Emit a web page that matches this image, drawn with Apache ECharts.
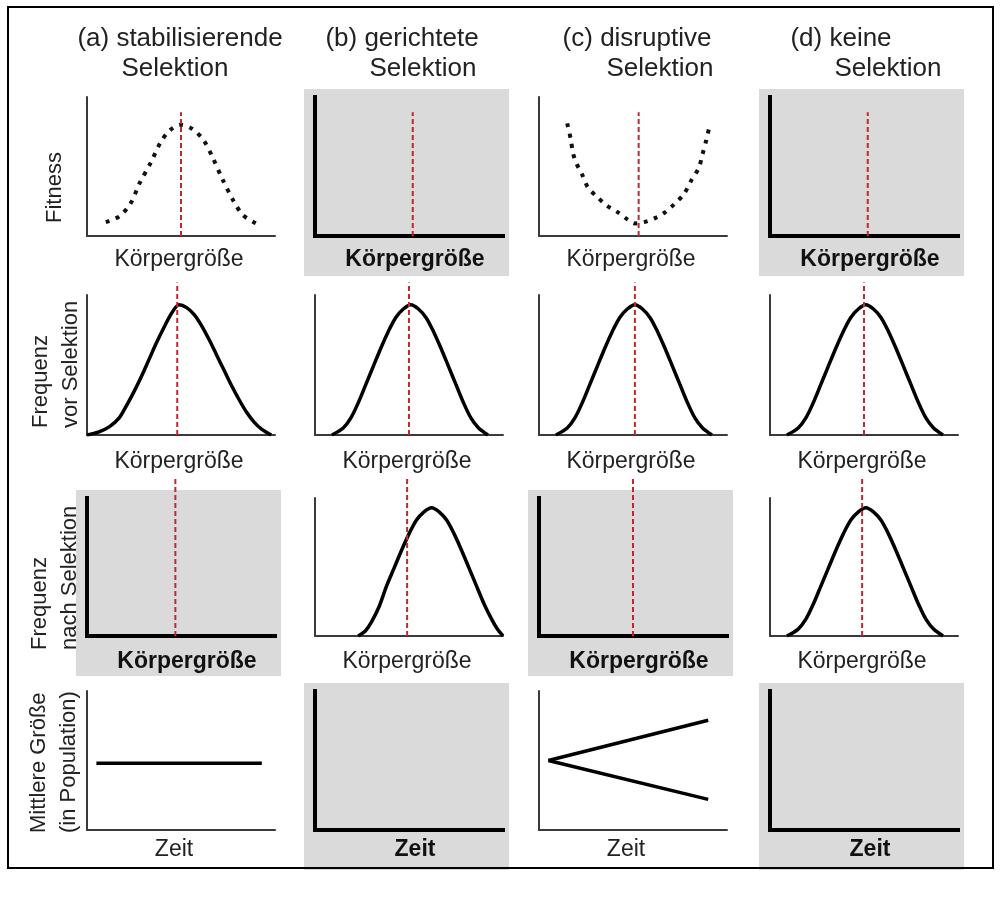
<!DOCTYPE html>
<html>
<head>
<meta charset="utf-8">
<title>Selektionstypen</title>
<script src="https://cdn.jsdelivr.net/npm/echarts@6/dist/echarts.min.js"></script>
<style>
  html, body { margin: 0; padding: 0; background: #fff; }
  #chart { width: 1003px; height: 912px; }
</style>
</head>
<body>
<div id="chart"></div>
<script>
// Spaltenköpfe, je zwei Zeilen
var colTitles = [
  ['(a) stabilisierende', 'Selektion'],
  ['(b) gerichtete', 'Selektion'],
  ['(c) disruptive', 'Selektion'],
  ['(d) keine', 'Selektion']
];
var rowLabels = ['Fitness', 'Frequenz\nvor Selektion', 'Frequenz\nnach Selektion', 'Mittlere Größe\n(in Population)'];
var xNames = ['Körpergröße', 'Körpergröße', 'Körpergröße', 'Zeit'];

// Kurven, x und y jeweils 0..100
var fitnessStab = [[10,10],[17,14],[23,23],[28,38],[34,53],[39,67],[44,76],[50,80],[56,77],[62,69],[67,56],[72,41],[78,25],[83,15],[90,9]];
var fitnessDisr = [[15,81],[17,69],[18,60],[20,52],[23,44],[26,35],[31,28],[36,22],[42,17],[47,12],[51,9],[56,10],[62,13],[67,17],[72,23],[77,30],[81,40],[85,49],[87,59],[89,69],[91,81]];
var bellWide = [[0,0],[6,2],[12,6],[17,12],[21,21],[25,31],[29,42],[33,54],[37,66],[41,77],[45,87],[49,93],[53,91],[57,86],[61,78],[65,68],[69,57],[73,46],[77,35],[81,25],[85,16],[89,9],[93,4],[98,0]];
var bellNarrow = [[9,0],[15,5],[19,12],[23,23],[27,36],[31,49],[35,62],[39,74],[43,84],[47,90],[51,93],[55,90],[59,84],[63,74],[67,62],[71,49],[75,36],[79,23],[83,12],[87,5],[92,0]];
var bellShifted = [[23,0],[27,4],[30,10],[34,21],[38,36],[42,49],[46,62],[50,74],[54,84],[58,90],[62,93],[66,90],[70,84],[74,74],[78,62],[82,49],[86,36],[90,23],[94,12],[97,5],[100,0]];
var flatMean = [[5,48],[93,48]];
var meanUp = [[5,50],[90,79]];
var meanDown = [[5,50],[90,22]];

// mittlere Körpergröße (rote Linie) je Spalte, Zeilen 1..3
var meanX = [[50,48,47],[52,50,49],[53,51,50],[52,50,49]];
var meanTop = [89, 109, 115];

// grau = keine Veränderung
var shaded = [
  [false, true, false, true],
  [false, false, false, false],
  [true, false, true, false],
  [false, true, false, true]
];
var panels = [
  [[fitnessStab], [], [fitnessDisr], []],
  [[bellWide], [bellNarrow], [bellNarrow], [bellNarrow]],
  [[], [bellShifted], [], [bellNarrow]],
  [[flatMean], [], [meanUp, meanDown], []]
];

// Layout
var colX = [87, 315, 539, 770], plotW = 188;
var rowTop = [97, 295, 498, 691], rowBot = [236, 435, 636, 830];
var titleX = [[180, 175], [402, 423], [637, 660], [841, 888]];
var labelPos = [[55, 223], [56, 428], [55, 650], [54, 833]];
var nameGaps = [12, 15, 14, 8];
var FONT = '"Liberation Sans", Arial, sans-serif';

var grids = [], xAxes = [], yAxes = [], series = [], graphics = [];

for (var r = 0; r < 4; r++) {
  for (var c = 0; c < 4; c++) {
    var i = grids.length;
    var h = rowBot[r] - rowTop[r];
    var gray = shaded[r][c];
    grids.push({left: colX[c], top: rowTop[r], width: plotW, height: h});
    var axLine = gray
      ? {show: true, onZero: false, lineStyle: {color: '#000', width: 4, cap: 'square'}}
      : {show: true, onZero: false, lineStyle: {color: '#3a3a3a', width: 2}};
    var pad = gray ? [0, 0, 0, 12] : [0, 14, 0, 0];
    if (r < 3 && !gray) pad = [0, 4, 0, 0];
    xAxes.push({
      gridIndex: i, type: 'value', min: 0, max: 100,
      axisLine: axLine, axisTick: {show: false}, axisLabel: {show: false}, splitLine: {show: false},
      name: xNames[r], nameLocation: 'middle', nameGap: nameGaps[r],
      nameTextStyle: {fontFamily: FONT, fontSize: 23, color: gray ? '#111' : '#222',
        fontWeight: gray ? 'bold' : 'normal', padding: pad}
    });
    yAxes.push({
      gridIndex: i, type: 'value', min: 0, max: 100,
      axisLine: axLine, axisTick: {show: false}, axisLabel: {show: false}, splitLine: {show: false}
    });
    if (gray) {
      graphics.push({type: 'rect', z: -10, silent: true,
        shape: {x: colX[c] - 11, y: rowTop[r] - 8, width: plotW + 17, height: h + 48},
        style: {fill: '#dadada'}});
    }
    panels[r][c].forEach(function (d) {
      var dotted = (r === 0);
      series.push({
        type: 'line', xAxisIndex: i, yAxisIndex: i, data: d,
        symbol: 'none', smooth: dotted ? 0.3 : (d.length > 3 ? 0.3 : false),
        lineStyle: dotted ? {color: '#111', width: 4, type: [4, 6.5]} : {color: '#000', width: 3.5},
        z: 3
      });
    });
    if (r < 3) {
      series.push({
        type: 'line', xAxisIndex: i, yAxisIndex: i, clip: false,
        data: [[meanX[c][r], 0], [meanX[c][r], meanTop[r]]],
        symbol: 'none', lineStyle: {color: '#c4262e', width: 2, type: [5, 3]}, z: 4
      });
    }
  }
}

// Spaltenköpfe
colTitles.forEach(function (t, c) {
  t.forEach(function (line, k) {
    graphics.push({type: 'text', z: 10, x: titleX[c][k], y: 39 + 30 * k,
      style: {text: line, font: '26px ' + FONT, fill: '#222', align: 'center', verticalAlign: 'middle'}});
  });
});
// Zeilenbeschriftungen (gedreht)
rowLabels.forEach(function (t, r) {
  graphics.push({type: 'text', z: 10, x: labelPos[r][0], y: labelPos[r][1], rotation: Math.PI / 2,
    style: {text: t, font: '22px ' + FONT, fill: '#222', align: 'left', verticalAlign: 'middle', lineHeight: 30}});
});
// Rahmen
graphics.push({type: 'rect', z: 20, silent: true,
  shape: {x: 8, y: 7, width: 985, height: 861},
  style: {fill: 'none', stroke: '#000', lineWidth: 2}});

var chart = echarts.init(document.getElementById('chart'));
chart.setOption({
  animation: false,
  backgroundColor: '#fff',
  grid: grids,
  xAxis: xAxes,
  yAxis: yAxes,
  series: series,
  graphic: graphics
});
</script>
</body>
</html>
